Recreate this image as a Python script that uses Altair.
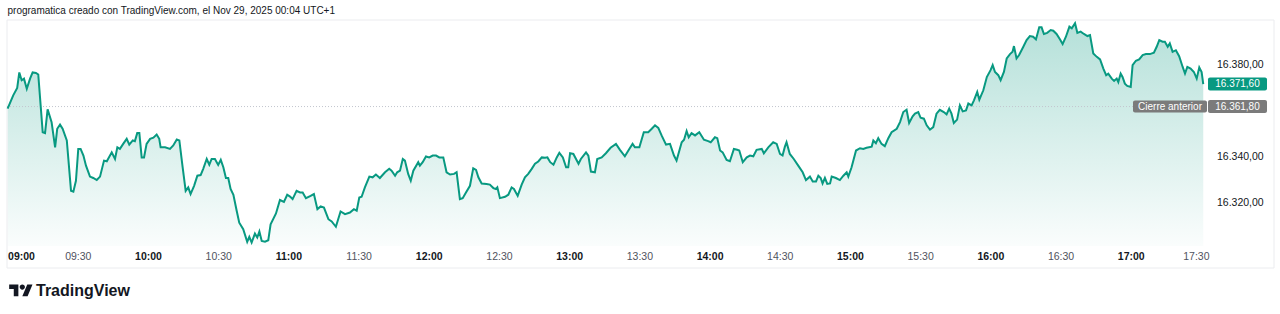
import altair as alt
import pandas as pd

# ---- data (minutes after 09:00, price) ----
minutes = [
    0, 2.4, 4.1, 5.0, 6.0, 7.0, 8.2, 9.6, 10.7, 12.1, 13.1, 15.0, 16.0, 17.1, 18.8, 20.3, 21.2, 22.4, 23.5, 25.3,
    27.1, 28.1, 29.2, 30.2, 31.2, 32.4, 33.5, 35.2, 36.6, 38.1, 39.5, 41.2, 42.4, 44.5, 45.9, 46.9, 48.0, 49.4, 50.9, 52.0,
    53.5, 54.4, 55.4, 56.3, 57.3, 58.3, 59.4, 60.9, 62.3, 63.7, 64.8, 65.4, 67.3, 69.4, 70.8, 72.3, 73.4, 74.8, 76.1, 77.2,
    78.2, 79.7, 81.1, 82.5, 83.6, 85.1, 86.2, 87.2, 88.6, 90.0, 91.1, 92.2, 93.3, 94.3, 95.3, 96.5, 97.9, 99.0, 100.7, 102.4,
    103.3, 104.3, 105.7, 106.7, 107.6, 108.6, 110.0, 111.4, 112.4, 114.7, 116.4, 118.1, 119.5, 120.7, 121.8, 123.5, 125.0,
    126.1, 127.5, 129.5, 130.9, 132.4, 133.8, 135.2, 137.1, 138.5, 140.3, 142.3, 144.2, 146.3, 148.0, 149.2, 150.3, 151.3, 152.7, 154.6, 156.0,
    157.4, 159.1, 161.3, 163.1, 164.1, 165.6, 166.5, 167.7, 168.9, 169.8, 171.2, 172.3, 173.4, 175.5, 176.2, 177.4, 178.8, 180.2, 181.7, 183.1,
    184.5, 186.2, 187.6, 189.1, 190.8, 191.9, 193.3, 194.5, 195.9, 197.6, 199.0, 200.2, 201.2, 202.6, 204.7, 206.1, 207.6, 208.7, 209.3, 210.4,
    212.6, 214.0, 215.4, 216.4, 218.0, 219.7, 221.1, 222.5, 224.0, 225.4, 226.8, 228.3, 229.7, 230.7, 231.9, 233.3, 234.7, 235.8, 237.3, 238.7,
    239.6, 240.4, 241.8, 244.0, 245.0,
    247.2, 248.2, 249.3, 251.0, 252.0, 253.9, 255.7, 257.7, 260.0, 261.7, 263.8, 265.7, 267.1, 268.1, 270.0, 271.9, 273.8, 275.3, 276.7, 278.1,
    279.5, 281.4, 283.1, 284.8, 285.9, 288.1, 289.1, 290.2, 291.1, 292.3, 293.8, 295.6, 297.6, 299.4, 300.5, 302.3, 303.3, 304.5, 305.6, 307.3,
    308.7, 310.4, 311.8, 312.7, 314.2, 315.9, 317.3, 318.7, 320.1, 322.3, 323.2, 325.1, 327.2, 328.7, 330.1, 331.2, 332.2, 332.9, 334.3, 336.0,
    337.9, 339.8, 341.2, 342.9, 344.1, 345.5, 346.5, 347.5, 348.3, 349.3, 350.3, 351.5, 352.2, 354.0, 355.7, 357.2, 358.6, 359.3, 360.7, 362.6,
    364.3, 365.7, 367.1, 369.3,
    370.0, 371.1, 372.1, 373.5, 374.9, 376.4, 377.8, 380.0, 381.4, 382.8, 384.2, 385.3, 386.8, 387.8, 389.2, 390.2, 391.6, 392.8, 394.2, 395.6,
    397.0, 398.4, 400.1, 401.3, 402.4, 403.4, 404.4, 405.8, 407.0, 408.2, 409.6, 410.6, 412.0, 413.0, 414.4, 415.3, 417.0, 418.5, 420.1, 421.0,
    422.0, 423.4, 424.4, 425.8, 427.0, 428.4, 429.5, 430.1, 431.2, 432.3, 434.1, 435.5, 436.9, 438.3, 439.5, 440.9, 441.9, 442.9, 444.3, 445.8,
    446.9, 448.3, 449.8, 450.9, 452.3, 453.8, 454.8, 456.2, 457.2, 458.6, 460.0, 461.5, 462.6, 464.0, 465.5, 466.9, 468.3, 469.5, 470.4, 471.9,
    472.9, 474.0, 474.7, 475.7, 476.5, 477.5, 478.5, 480.0, 480.8, 482.2, 483.6, 485.1, 486.5, 488.2, 489.9, 491.1, 492.2, 493.6, 494.6, 495.8,
    496.7, 497.9, 499.3, 500.7, 502.2, 503.2, 504.2, 505.6, 507.0, 508.2, 509.3, 510.3, 511.0,
]

prices = [
    16360.9, 16366.7, 16369.9, 16376.7, 16373.3, 16374.0, 16369.6, 16374.0, 16376.7, 16376.5, 16375.8, 16350.6, 16350.2, 16360.6, 16355.0, 16344.0, 16352.1, 16353.9, 16352.1, 16347.0,
    16325.0, 16324.6, 16329.4, 16343.3, 16343.3, 16340.4, 16336.0, 16331.2, 16330.6, 16329.7, 16331.2, 16338.2, 16337.9, 16341.8, 16338.9, 16344.0, 16343.3, 16345.5, 16347.7, 16345.2,
    16347.0, 16346.7, 16350.2, 16350.2, 16339.6, 16339.6, 16345.5, 16347.7, 16348.2, 16349.6, 16347.7, 16344.0, 16344.0, 16343.3, 16344.8, 16347.4, 16347.0, 16335.3, 16325.0, 16326.5,
    16323.6, 16327.2, 16331.6, 16331.9, 16334.6, 16338.9, 16336.4, 16338.9, 16338.9, 16336.3, 16338.5, 16335.3, 16330.6, 16330.6, 16325.8, 16323.3, 16316.3, 16311.1, 16308.2, 16302.7,
    16304.9, 16302.4, 16306.3, 16304.6, 16307.2, 16303.1, 16302.8, 16303.4, 16310.4, 16315.1, 16321.0, 16320.2, 16323.3, 16322.5, 16321.4, 16325.0, 16324.3,
    16324.3, 16321.8, 16322.8, 16323.6, 16317.0, 16318.2, 16317.7, 16312.6, 16311.6, 16309.3, 16316.0, 16314.8, 16315.5, 16317.0, 16316.3, 16322.1, 16322.4, 16326.5, 16331.2, 16330.9,
    16332.1, 16330.6, 16333.1, 16334.6, 16333.8, 16331.6, 16333.1, 16333.8, 16338.9, 16338.2, 16332.4, 16329.4, 16333.8, 16337.5, 16336.0, 16337.5, 16340.0, 16339.6, 16340.4, 16340.4,
    16339.6, 16339.6, 16333.1, 16332.1, 16332.4, 16333.1, 16321.4, 16321.8, 16324.3, 16327.2, 16334.8, 16334.1, 16330.9, 16328.2, 16328.0, 16327.7, 16326.2, 16325.8, 16326.5, 16321.8,
    16322.4, 16323.3, 16326.5, 16325.8, 16322.8, 16327.7, 16330.9, 16332.4, 16334.6, 16336.8, 16337.8, 16339.6, 16339.4, 16339.6, 16337.5, 16336.4, 16339.6, 16341.6, 16339.6, 16335.3,
    16335.3, 16341.4, 16341.1, 16336.8, 16338.9,
    16341.8, 16340.4, 16333.4, 16333.1, 16338.9, 16339.6, 16341.4, 16343.8, 16345.5, 16342.9, 16340.1, 16343.3, 16345.5, 16344.0, 16344.0, 16350.6, 16350.6, 16352.1, 16353.6, 16352.5,
    16349.2, 16345.2, 16345.5, 16340.4, 16338.2, 16346.2, 16347.3, 16351.1, 16348.4, 16350.2, 16349.2, 16350.6, 16347.3, 16346.7, 16346.2, 16348.4, 16348.0, 16342.6, 16341.8, 16338.5,
    16337.9, 16343.3, 16342.9, 16342.6, 16337.5, 16339.6, 16340.4, 16340.1, 16342.9, 16343.3, 16341.4, 16344.0, 16346.2, 16345.5, 16341.1, 16340.4, 16344.3, 16346.2, 16341.1, 16338.9,
    16336.0, 16333.1, 16329.7, 16331.2, 16329.1, 16329.1, 16331.6, 16330.6, 16328.2, 16330.6, 16328.0, 16328.2, 16331.2, 16330.6, 16329.7, 16331.6, 16333.1, 16331.2, 16335.3, 16342.6,
    16343.6, 16343.3, 16343.8, 16344.3,
    16347.0, 16345.8, 16348.0, 16345.5, 16344.5, 16348.0, 16350.6, 16352.1, 16355.0, 16359.4, 16360.4, 16354.6, 16357.5, 16358.7, 16359.4, 16356.9, 16356.5, 16353.6, 16351.7, 16352.8,
    16358.7, 16360.4, 16359.4, 16358.4, 16360.9, 16358.7, 16354.6, 16356.1, 16362.3, 16359.7, 16360.1, 16363.1, 16362.3, 16364.5, 16368.2, 16364.8, 16368.9, 16374.7, 16377.7, 16379.9,
    16376.9, 16375.5, 16373.3, 16376.9, 16382.8, 16384.7, 16385.7, 16388.2, 16382.8, 16384.3, 16387.9, 16390.8, 16392.6, 16392.3, 16391.1, 16396.4, 16396.4, 16393.5, 16394.0, 16395.2,
    16394.9, 16393.5, 16391.1, 16389.1, 16392.3, 16396.7, 16396.0, 16398.2, 16394.0, 16394.5, 16393.5, 16392.6, 16393.0, 16385.0, 16383.5, 16382.4, 16378.4, 16375.5, 16376.2, 16374.0,
    16373.0, 16374.0, 16372.5, 16376.2, 16374.7, 16371.8, 16370.8, 16370.4, 16379.9, 16381.8, 16382.4, 16384.3, 16384.7, 16384.7, 16385.3, 16387.9, 16390.8, 16390.1, 16390.1, 16387.9,
    16389.4, 16385.7, 16386.4, 16383.8, 16379.1, 16376.2, 16379.1, 16378.4, 16376.9, 16374.0, 16378.9, 16376.9, 16371.6,
]

prev_close = 16361.80
last_price = prices[-1]
y_ticks = [16320, 16340, 16380]
x_ticks = list(range(0, 511, 30))
title_text = "programatica creado con TradingView.com, el Nov 29, 2025 00:04 UTC+1"
prev_label = "Cierre anterior"
brand = "TradingView"

FONT = "Liberation Sans"
GREEN = "#089981"
GREY = "#7b7b7b"
W, H = 1200, 226

df = pd.DataFrame({"m": minutes, "p": prices})
xs = alt.Scale(domain=[-0.26, 512.6], nice=False, zero=False)
ys = alt.Scale(domain=[16300.9, 16399.6], nice=False, zero=False)

fmt_expr = "replace(replace(replace(format({v}, ',.2f'), ',', '_'), '.', ','), '_', '.')"

x_axis = alt.Axis(
    values=x_ticks, title=None, domain=False, ticks=False, grid=False,
    labelExpr="(floor(datum.value/60)+9 < 10 ? '0' : '') + (floor(datum.value/60)+9) + ':' + (datum.value % 60 == 0 ? '00' : '30')",
    labelFont=FONT, labelFontSize=10.5, labelPadding=10.5, labelBaseline="middle",
    labelFontWeight=alt.condition("datum.value % 60 == 0", alt.value("bold"), alt.value("normal")),
    labelColor=alt.condition("datum.value % 60 == 0", alt.value("#131722"), alt.value("#50535e")),
    labelAlign=alt.condition("datum.value == 0", alt.value("left"), alt.value("center")),
    labelOffset=alt.condition("datum.value == 510", alt.value(-5), alt.value(0)),
    labelOverlap=False, labelFlush=False,
)
y_axis = alt.Axis(
    orient="right", values=y_ticks, title=None, domain=False, ticks=False, grid=False,
    labelExpr=fmt_expr.format(v="datum.value"),
    labelFont=FONT, labelFontSize=10.5, labelPadding=9.5, labelAlign="left",
    labelBaseline="middle", labelColor="#131722", labelOverlap=False,
)

X = alt.X("m:Q", scale=xs, axis=x_axis)
Y = alt.Y("p:Q", scale=ys, axis=y_axis, stack=None)

base = alt.Chart(df)

area = base.mark_area(
    fill=alt.Gradient(
        gradient="linear",
        stops=[alt.GradientStop(color="rgba(8,153,129,0.30)", offset=0),
               alt.GradientStop(color="rgba(8,153,129,0.02)", offset=1)],
        x1=0, x2=0, y1=0, y2=1,
    ),
).encode(x=X, y=Y, y2=alt.value(H))

line = base.mark_line(color=GREEN, strokeWidth=2).encode(x=X, y=Y)

lvl = pd.DataFrame({
    "p": [last_price, prev_close],
    "col": [GREEN, GREY],
})
lvl_base = alt.Chart(lvl).transform_calculate(lab=fmt_expr.format(v="datum.p"))

prev_rule = alt.Chart(pd.DataFrame({"p": [prev_close]})).mark_rule(
    color="#c3c6ce", strokeDash=[1, 2], strokeWidth=1
).encode(y=Y, x=alt.value(0), x2=alt.value(W))

price_boxes = lvl_base.mark_rect(cornerRadius=2, yOffset=-6.5, y2Offset=6.5).encode(
    y=Y, y2="p:Q",
    x=alt.value(1201), x2=alt.value(1260),
    color=alt.Color("col:N", scale=None),
)
price_text = lvl_base.mark_text(
    font=FONT, fontSize=10, color="white", align="center", baseline="middle"
).encode(y=Y, x=alt.value(1230.5), text="lab:N")

prev_df = pd.DataFrame({"p": [prev_close], "t": [prev_label]})
prev_box = alt.Chart(prev_df).mark_rect(
    cornerRadius=2, yOffset=-6, y2Offset=6, color=GREY
).encode(y=Y, y2="p:Q", x=alt.value(1126), x2=alt.value(1200))
prev_text = alt.Chart(prev_df).mark_text(
    font=FONT, fontSize=10, color="white", align="center", baseline="middle"
).encode(y=Y, x=alt.value(1163), text="t:N")

frame = alt.Chart(pd.DataFrame({"k": [0]})).mark_rect(
    fillOpacity=0, stroke="#ebecef", strokeWidth=1
).encode(x=alt.value(0), x2=alt.value(1267), y=alt.value(0), y2=alt.value(248))

title = alt.Chart(pd.DataFrame({"t": [title_text]})).mark_text(
    font=FONT, fontSize=10, color="#131722", align="left", baseline="middle"
).encode(x=alt.value(0.5), y=alt.value(-9), text="t:N")

logo_path = ("M-0.222,0.444 L-0.611,0.444 L-0.611,-0.167 L-1,-0.167 L-1,-0.556 L-0.222,-0.556 Z "
             "M0.556,0.444 L0.111,0.444 L0.528,-0.556 L0.972,-0.556 Z "
             "M0.333,-0.333 A0.222,0.222 0 1,1 -0.111,-0.333 A0.222,0.222 0 1,1 0.333,-0.333 Z")
logo = alt.Chart(pd.DataFrame({"k": [0]})).mark_point(
    shape=logo_path, size=560, filled=True, color="#131722", opacity=1, strokeWidth=0
).encode(x=alt.value(14), y=alt.value(271))
brand_text = alt.Chart(pd.DataFrame({"t": [brand]})).mark_text(
    font=FONT, fontSize=16, fontWeight="bold", color="#131722", align="left", baseline="middle"
).encode(x=alt.value(29), y=alt.value(271), text="t:N")

chart = alt.layer(
    area, frame, prev_rule, line, prev_box, prev_text, price_boxes, price_text, title, logo, brand_text
).properties(
    width=W, height=H,
    padding={"left": 7, "top": 20, "right": 73, "bottom": 68},
    autosize=alt.AutoSizeParams(type="none"),
    background="white",
).configure_view(strokeWidth=0)

chart.save("out.html", embed_options={"renderer": "svg", "actions": False})
